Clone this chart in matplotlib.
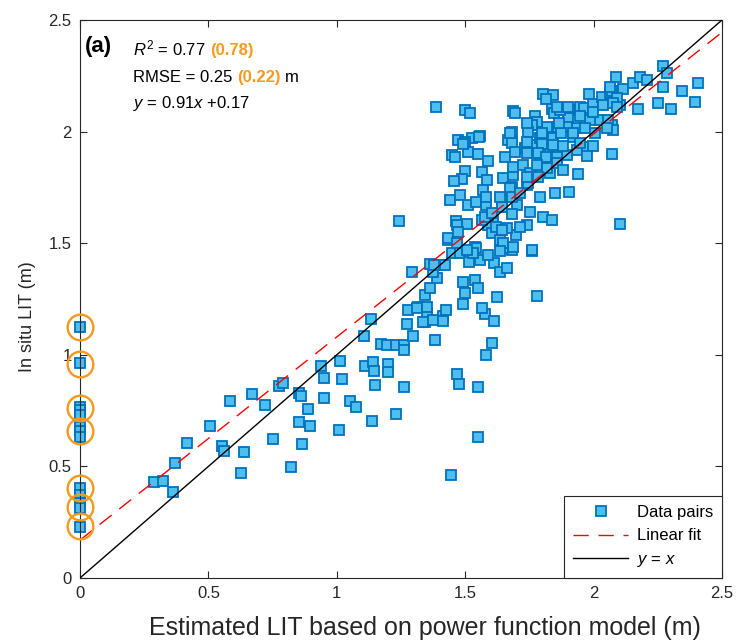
import matplotlib
matplotlib.use('Agg')
import matplotlib.pyplot as plt
from matplotlib.lines import Line2D
from matplotlib.offsetbox import TextArea, HPacker, AnchoredOffsetbox

plt.rcParams['font.family'] = ['Liberation Sans', 'DejaVu Sans']
plt.rcParams['mathtext.fontset'] = 'custom'
plt.rcParams['mathtext.rm'] = 'Liberation Sans'
plt.rcParams['mathtext.it'] = 'Liberation Sans:italic'
plt.rcParams['mathtext.bf'] = 'Liberation Sans:bold'

# ---- data ----
est_x = [
    0.288, 0.322, 0.362, 0.369, 0.417, 0.508, 0.554, 0.561, 0.583, 0.628,
    0.639, 0.671, 0.722, 0.753, 0.774, 0.789, 0.820, 0.852, 0.859, 0.854,
    0.866, 0.888, 0.894, 0.937, 0.950, 0.949, 1.010, 1.012, 1.019, 1.053,
    1.074, 1.106, 1.133, 1.110, 1.140, 1.145, 1.149, 1.138, 1.173, 1.194,
    1.229, 1.260, 1.263, 1.198, 1.198, 1.262, 1.232, 1.298, 1.272, 1.278,
    1.317, 1.343, 1.350,
    1.292, 1.314, 1.350, 1.337, 1.376, 1.415, 1.425, 1.415, 1.384, 1.343,
    1.363, 1.391, 1.376, 1.402, 1.421, 1.447, 1.480, 1.434, 1.493, 1.538,
    1.499, 1.551, 1.490, 1.578, 1.614, 1.623, 1.604, 1.581, 1.467, 1.475,
    1.549, 1.551, 1.443, 1.780, 1.760, 1.515, 1.558, 1.614, 1.636, 1.662,
    1.682, 1.538, 1.363, 1.242,
    1.385, 1.499, 1.519, 1.687, 1.694, 1.802, 1.841, 1.813, 1.837, 1.846,
    1.908, 1.901, 1.947, 1.983, 1.963, 1.999, 2.031, 2.064, 2.070, 2.087,
    2.113, 2.155, 2.181, 2.207, 2.269, 2.269, 2.343, 2.405, 2.395, 2.300,
    2.252, 2.172, 2.103, 2.090, 2.073, 2.073, 2.103, 2.025, 1.986, 1.999,
    1.947, 1.869, 1.934, 1.895, 1.863, 1.817, 1.772, 1.778, 1.759, 1.746,
    1.681, 1.668, 1.681, 1.558, 1.525, 1.473, 1.499, 1.447, 1.460, 1.512,
    1.551, 1.590, 1.655, 1.694, 1.733, 1.765, 1.791, 1.830, 1.863, 1.895,
    1.934, 1.973, 1.843, 1.874, 1.791, 1.499, 1.564, 1.486, 1.456, 1.584,
    1.568, 1.648, 1.687, 1.687, 1.726, 1.752, 1.791, 1.830, 1.739, 1.681,
    1.642, 1.642, 1.701, 1.752, 1.791, 1.850, 1.905, 1.938, 1.802, 1.837,
    1.739, 1.697, 1.681, 1.610, 1.590, 1.564, 1.508, 1.464, 1.467, 1.441,
    1.480, 1.512, 1.544, 1.581, 1.434, 1.473, 1.544, 1.603, 1.636, 1.648,
    1.687, 1.759, 1.467, 1.662, 1.921, 1.947, 2.287, 2.077, 1.493, 1.554,
    1.674, 1.674, 1.636, 1.581, 1.681, 1.713, 1.577, 1.603, 1.620, 1.642,
    1.713, 1.648, 1.636, 1.532, 1.590, 1.506, 1.379, 1.564, 1.746, 2.064,
    1.859, 1.902, 2.038, 2.077, 1.739, 1.866, 2.057, 1.798, 1.921, 1.967,
    2.005, 2.051, 1.739, 1.798, 1.841, 1.880, 1.999, 1.739, 1.785, 1.815,
    1.856, 1.973, 1.778, 1.817, 1.856, 1.882, 1.739, 1.785, 2.092,
    0, 0, 0, 0, 0, 0, 0, 0, 0, 0, 0, 0, 0,
]
insitu_y = [
    0.430, 0.435, 0.385, 0.517, 0.603, 0.683, 0.593, 0.570, 0.794, 0.472,
    0.565, 0.826, 0.777, 0.621, 0.860, 0.872, 0.496, 0.830, 0.815, 0.699,
    0.600, 0.759, 0.680, 0.950, 0.895, 0.805, 0.662, 0.974, 0.892, 0.794,
    0.768, 1.084, 1.162, 0.951, 0.969, 0.929, 0.865, 0.703, 1.047, 1.044,
    1.044, 1.044, 1.022, 0.957, 0.923, 0.857, 0.735, 1.084, 1.138, 1.201,
    1.213, 1.148, 1.186,
    1.372, 1.208, 1.216, 1.148, 1.156, 1.174, 1.201, 1.153, 1.066, 1.268,
    1.298, 1.343, 1.372, 1.402, 1.402, 1.455, 1.457, 1.514, 1.328, 1.335,
    1.278, 1.298, 1.228, 1.183, 1.153, 1.258, 1.054, 0.998, 0.914, 0.869,
    0.857, 0.633, 0.460, 1.265, 1.467, 1.417, 1.425, 1.413, 1.372, 1.387,
    1.470, 1.482, 1.407, 1.601,
    2.109, 2.097, 2.082, 2.094, 2.082, 2.168, 2.164, 2.145, 2.100, 2.085,
    2.097, 2.060, 2.112, 2.168, 2.104, 2.124, 2.154, 2.172, 2.184, 2.246,
    2.190, 2.216, 2.246, 2.231, 2.294, 2.198, 2.182, 2.216, 2.134, 2.101,
    2.130, 2.100, 2.119, 2.149, 2.030, 1.900, 1.586, 2.052, 2.052, 2.090,
    2.069, 2.097, 2.015, 2.022, 2.022, 2.022, 2.071, 2.044, 2.030, 2.000,
    2.000, 1.962, 1.948, 1.980, 1.970, 1.962, 1.955, 1.895, 1.885, 1.910,
    1.900, 1.870, 1.885, 1.910, 1.925, 1.940, 1.888, 1.925, 1.910, 1.895,
    1.918, 1.930, 1.970, 1.993, 1.970, 1.825, 1.820, 1.786, 1.780, 1.783,
    1.738, 1.790, 1.805, 1.843, 1.850, 1.813, 1.828, 1.813, 1.761, 1.753,
    1.694, 1.664, 1.671, 1.641, 1.706, 1.724, 1.728, 1.810, 1.619, 1.604,
    1.581, 1.536, 1.631, 1.604, 1.581, 1.604, 1.586, 1.601, 1.581, 1.694,
    1.716, 1.671, 1.686, 1.671, 1.525, 1.552, 1.477, 1.544, 1.514, 1.477,
    1.484, 1.470, 1.502, 1.567, 1.976, 1.948, 2.264, 2.007, 1.944, 1.977,
    1.995, 1.746, 1.708, 1.708, 1.706, 1.724, 1.616, 1.634, 1.573, 1.559,
    1.574, 1.500, 1.466, 1.455, 1.447, 1.470, 1.402, 1.208, 1.768, 2.201,
    2.109, 2.112, 2.119, 2.127, 2.037, 2.037, 2.052, 1.995, 1.992, 2.015,
    1.992, 2.015, 1.955, 1.944, 1.940, 1.935, 1.935, 1.905, 1.903, 1.888,
    1.888, 1.891, 1.850, 1.836, 1.858, 1.828, 1.798, 1.798, 2.109,
    1.123, 0.965, 0.768, 0.753, 0.730, 0.678, 0.659, 0.633, 0.402, 0.372,
    0.335, 0.312, 0.230,
]
# highlighted (orange circle) zero-estimate samples
circle_x = [0, 0, 0, 0, 0, 0, 0]
circle_y = [1.123, 0.959, 0.760, 0.657, 0.402, 0.320, 0.233]

fit_slope, fit_intercept = 0.91, 0.17
line_x = [0, 2.5]
r2_txt, r2_alt = "0.77", "0.78"
rmse_txt, rmse_alt = "0.25", "0.22"

x_ticks = [0, 0.5, 1, 1.5, 2, 2.5]
x_ticklabels = ["0", "0.5", "1", "1.5", "2", "2.5"]
y_ticks = [0, 0.5, 1, 1.5, 2, 2.5]
y_ticklabels = ["0", "0.5", "1", "1.5", "2", "2.5"]

# ---- style ----
FACE = '#4DBEEE'
EDGE = '#0072BD'
ORANGE = '#F59A1E'
AXC = '#262626'
FS = 12

fig = plt.figure(figsize=(7.42, 6.41), dpi=100)
ax = fig.add_axes([80 / 742, 63 / 641, 642 / 742, 558 / 641])

ax.plot(est_x, insitu_y, linestyle='none', marker='s', markersize=7.6,
        markerfacecolor=FACE, markeredgecolor=EDGE, markeredgewidth=1.3,
        clip_on=False, zorder=2)
ax.plot(circle_x, circle_y, linestyle='none', marker='o', markersize=18.5,
        markerfacecolor='none', markeredgecolor=ORANGE, markeredgewidth=1.7,
        clip_on=False, zorder=4)
fit_y = [fit_slope * v + fit_intercept for v in line_x]
ax.plot(line_x, fit_y, color='#FF0000', lw=1.0, linestyle=(0, (11, 7)), zorder=3)
ax.plot(line_x, line_x, color='black', lw=1.0, zorder=3)

ax.set_xlim(0, 2.5)
ax.set_ylim(0, 2.5)
ax.set_xticks(x_ticks)
ax.set_xticklabels(x_ticklabels)
ax.set_yticks(y_ticks)
ax.set_yticklabels(y_ticklabels)
ax.tick_params(direction='in', length=5, width=0.8, top=True, right=True,
               labelsize=FS, colors=AXC, pad=6)
for sp in ax.spines.values():
    sp.set_color(AXC)
    sp.set_linewidth(0.8)

fig.text(425 / 742, (641 - 628) / 641, 'Estimated LIT based on power function model (m)',
         fontsize=18, color=AXC, ha='center', va='center')
fig.text(28 / 742, (641 - 317) / 641, 'In situ LIT (m)', fontsize=13, color=AXC,
         ha='center', va='center', rotation=90)

# annotation block
ax.text(0.008, 0.953, '(a)', transform=ax.transAxes, fontsize=16, fontweight='bold',
        va='center', ha='left', color='black')

SEP = 0.278 * FS


def line_box(parts, y):
    kids = [TextArea(s, textprops=dict(fontsize=FS, **kw)) for s, kw in parts]
    box = HPacker(children=kids, align='baseline', pad=0, sep=SEP)
    anch = AnchoredOffsetbox(loc='center left', child=box, pad=0, borderpad=0,
                             frameon=False, bbox_to_anchor=(0.0826, y),
                             bbox_transform=ax.transAxes)
    ax.add_artist(anch)


line_box([(r'$R^2$ = ' + r2_txt, dict(color='black')),
          ('(' + r2_alt + ')', dict(color=ORANGE, fontweight='bold'))], 0.949)
line_box([('RMSE = ' + rmse_txt, dict(color='black')),
          ('(' + rmse_alt + ')', dict(color=ORANGE, fontweight='bold')),
          ('m', dict(color='black'))], 0.897)
line_box([(r'$y$ = %.2f$x$ +%.2f' % (fit_slope, fit_intercept), dict(color='black'))], 0.850)

handles = [
    Line2D([], [], linestyle='none', marker='s', markersize=7.6, markerfacecolor=FACE,
           markeredgecolor=EDGE, markeredgewidth=1.3),
    Line2D([], [], color='#FF0000', lw=1.0, linestyle=(0, (11, 7))),
    Line2D([], [], color='black', lw=1.0),
]
leg = ax.legend(handles, ['Data pairs', 'Linear fit', '$y$ = $x$'], loc='lower right',
                fontsize=FS, frameon=True, fancybox=False, edgecolor=AXC, framealpha=1,
                borderaxespad=0, handlelength=3.3, handletextpad=0.5, labelspacing=0.5,
                borderpad=0.55)
leg.get_frame().set_linewidth(0.8)

fig.savefig('out.png', dpi=100)
